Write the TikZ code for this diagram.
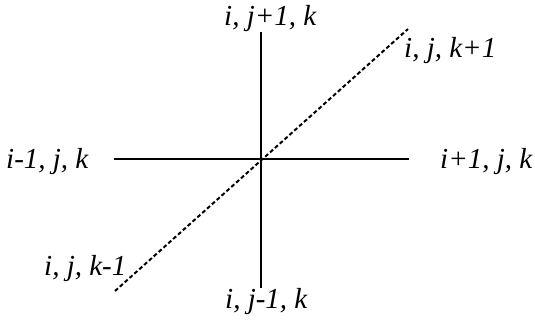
\documentclass[tikz,border=0pt]{standalone}
\usepackage{fontspec}
\newfontfamily\timesit{Liberation Serif Italic}
\begin{document}
\begin{tikzpicture}[x=1pt,y=-1pt,
  lbl/.style={inner sep=0pt,anchor=base west,font=\timesit\fontsize{29}{34}\selectfont},
  axis/.style={line width=2.1pt},
  diag/.style={line width=2pt,dash pattern=on 4pt off 2.5pt}]
\useasboundingbox (0,0) rectangle (535,320);
\coordinate (c) at (261,159);
\coordinate (w) at (114,159);
\coordinate (e) at (409,159);
\coordinate (n) at (261,32);
\coordinate (s) at (261,288);
\coordinate (ne) at (408,29);
\coordinate (sw) at (115,291);
\draw[axis] (w) -- (e);
\draw[axis] (n) -- (s);
\draw[diag] (sw) -- (ne);
\node[lbl] (top) at (224,26) {i, j+1, k};
\node[lbl] (kp) at (404,58) {i, j, k+1};
\node[lbl] (left) at (6,169) {i-1, j, k};
\node[lbl] (right) at (440,169) {i+1, j, k};
\node[lbl] (km) at (44,275) {i, j, k-1};
\node[lbl] (bot) at (225,308) {i, j-1, k};
\end{tikzpicture}
\end{document}
